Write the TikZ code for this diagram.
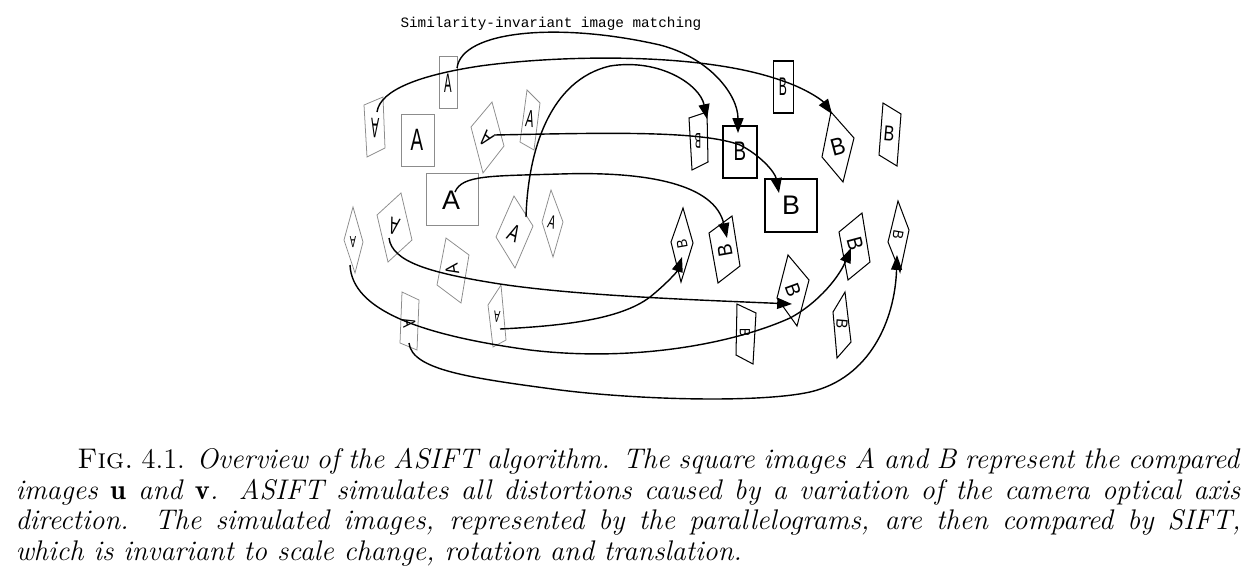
\documentclass[tikz,border=0pt]{standalone}
\usepackage{fontspec}
\newfontfamily\arialf{Liberation Sans}
\newfontfamily\monof{Liberation Mono}
\usetikzlibrary{arrows.meta}
\begin{document}
\begin{tikzpicture}[x=0.391pt,y=-0.391pt,
  ashape/.style={draw=black!45, line width=0.3pt},
  bshape/.style={draw=black, line width=0.4pt},
  bbox/.style={draw=black, line width=0.75pt},
  letter/.style={font=\arialf\fontsize{10.5}{12}\selectfont, inner sep=0pt},
  conn/.style={line width=0.55pt, -{Triangle[length=5.8pt,width=4.3pt]}},
  ]
\path[use as bounding box] (0,0) rectangle (1252,576);

% title
\node[font=\monof\fontsize{5.6}{7}\selectfont, anchor=base west, inner sep=0pt] (title) at (400,27) {Similarity-invariant image matching};

% A side shapes
\draw[ashape] (364,105) -- (383,97) -- (385,148) -- (367,157) -- cycle;
\draw[ashape] (439,56) rectangle (457,108);
\draw[ashape] (401,114) rectangle (434,166);
\draw[ashape] (426,173) rectangle (478,225);
\draw[ashape] (471,127) -- (492,102) -- (504,146) -- (483,173) -- cycle;
\draw[ashape] (527,90) -- (540,103) -- (534,150) -- (520,142) -- cycle;
\draw[ashape] (353,207) -- (363,242) -- (355,273) -- (344,240) -- cycle;
\draw[ashape] (377,215) -- (401,193) -- (412,240) -- (388,262) -- cycle;
\draw[ashape] (496,237) -- (514,196) -- (533,226) -- (515,268) -- cycle;
\draw[ashape] (551,190) -- (563,222) -- (553,257) -- (542,222) -- cycle;
\draw[ashape] (437,285) -- (446,238) -- (469,255) -- (461,303) -- cycle;
\draw[ashape] (402,292) -- (419,300) -- (417,350) -- (400,343) -- cycle;
\draw[ashape] (488,305) -- (501,285) -- (506,340) -- (493,347) -- cycle;

% A letters
\node[letter, rotate=178, xscale=0.45, yscale=1.05] (A1) at (375,128) {A};
\node[letter, xscale=0.42, yscale=1.0] (A2) at (448,83) {A};
\node[letter, xscale=0.7, yscale=1.15] (A3) at (417,140) {A};
\node[letter] (A4) at (451,200) {A};
\node[letter, rotate=140, xscale=0.6, yscale=0.8] (A5) at (486,139) {A};
\node[letter, rotate=-8, xscale=0.45, yscale=0.9] (A6) at (530,119) {A};
\node[letter, rotate=180, xscale=0.35, yscale=0.6] (A7) at (353,242) {A};
\node[letter, rotate=165, xscale=0.55, yscale=0.9] (A8) at (394,226) {A};
\node[letter, rotate=-25, xscale=0.6, yscale=0.9] (A9) at (514,233) {A};
\node[letter, rotate=-15, xscale=0.4, yscale=0.7] (A10) at (552,222) {A};
\node[letter, rotate=100, xscale=0.6, yscale=0.7] (A11) at (452,269) {A};
\node[letter, rotate=-80, xscale=0.5, yscale=0.7] (A12) at (409,323) {A};
\node[letter, rotate=175, xscale=0.35, yscale=0.6] (A13) at (497,317) {A};

% B side shapes
\draw[bshape] (773,61) rectangle (793,113);
\draw[bshape] (689,118) -- (707,112) -- (708,162) -- (692,170) -- cycle;
\draw[bbox] (723,126) rectangle (757,178);
\draw[bbox] (765,179) rectangle (817,232);
\draw[bshape] (831,112) -- (854,138) -- (843,182) -- (822,157) -- cycle;
\draw[bshape] (883,103) -- (901,114) -- (897,166) -- (879,155) -- cycle;
\draw[bshape] (683,208) -- (693,243) -- (681,282) -- (671,242) -- cycle;
\draw[bshape] (709,233) -- (732,216) -- (740,266) -- (718,283) -- cycle;
\draw[bshape] (839,232) -- (862,213) -- (870,262) -- (848,280) -- cycle;
\draw[bshape] (898,201) -- (909,230) -- (900,272) -- (888,242) -- cycle;
\draw[bshape] (777,298) -- (788,255) -- (809,280) -- (797,326) -- cycle;
\draw[bshape] (736,355) -- (737,304) -- (756,313) -- (753,364) -- cycle;
\draw[bshape] (833,312) -- (845,292) -- (851,342) -- (837,358) -- cycle;

% B letters
\node[letter, xscale=0.45, yscale=0.95] (B14) at (783,87) {B};
\node[letter, rotate=180, xscale=0.35, yscale=0.8] (B15) at (698,141) {B};
\node[letter, xscale=0.7, yscale=1.0] (B16) at (740,151) {B};
\node[letter] (B17) at (791,205) {B};
\node[letter, rotate=15, xscale=0.8, yscale=0.9] (B18) at (838,147) {B};
\node[letter, rotate=-5, xscale=0.6, yscale=0.8] (B19) at (889,134) {B};
\node[letter, rotate=100, xscale=0.5, yscale=0.55] (B20) at (682,244) {B};
\node[letter, rotate=100, xscale=0.7, yscale=0.75] (B21) at (725,251) {B};
\node[letter, rotate=-75, xscale=0.7, yscale=0.8] (B22) at (855,244) {B};
\node[letter, rotate=-100, xscale=0.5, yscale=0.55] (B23) at (898,235) {B};
\node[letter, rotate=-70, xscale=0.7, yscale=0.75] (B24) at (793,290) {B};
\node[letter, rotate=-90, xscale=0.45, yscale=0.55] (B25) at (745,333) {B};
\node[letter, rotate=-95, xscale=0.55, yscale=0.6] (B26) at (842,324) {B};

% connector end points
\coordinate (as) at (457,68);   \coordinate (ae) at (738,133);
\coordinate (bs) at (377,112);  \coordinate (be) at (832,114);
\coordinate (cs) at (526,217);  \coordinate (ce) at (707,119);
\coordinate (ds) at (494,135);  \coordinate (de) at (779,193);
\coordinate (es) at (455,192);  \coordinate (ee) at (727,238);
\coordinate (fs) at (389,238);  \coordinate (fe) at (792,304);
\coordinate (gs) at (350,265);  \coordinate (ge) at (851,248);
\coordinate (hs) at (500,329);  \coordinate (he) at (682,257);
\coordinate (is) at (409,343);  \coordinate (ie) at (897,255);

% connectors
\draw[conn] (as) .. controls (462,30) and (560,22) .. (660,45) .. controls (710,58) and (738,95) .. (ae);
\draw[conn] (bs) .. controls (380,90) and (420,75) .. (480,66) .. controls (560,55) and (700,52) .. (780,80) .. controls (805,88) and (822,100) .. (be);
\draw[conn] (cs) .. controls (528,150) and (550,80) .. (610,66) .. controls (660,58) and (700,85) .. (ce);
\draw[conn] (ds) .. controls (600,133) and (700,130) .. (740,145) .. controls (760,155) and (775,172) .. (de);
\draw[conn] (es) .. controls (462,175) and (490,176) .. (560,174) .. controls (650,171) and (715,185) .. (ee);
\draw[conn] (fs) .. controls (392,262) and (430,273) .. (500,284) .. controls (580,296) and (700,300) .. (fe);
\draw[conn] (gs) .. controls (352,310) and (420,335) .. (530,350) .. controls (630,362) and (730,345) .. (790,318) .. controls (820,302) and (840,275) .. (ge);
\draw[conn] (hs) .. controls (560,326) and (620,320) .. (650,297) .. controls (665,285) and (677,272) .. (he);
\draw[conn] (is) .. controls (412,370) and (470,378) .. (560,390) .. controls (640,400) and (760,403) .. (810,392) .. controls (870,378) and (895,320) .. (ie);

% caption
\node[anchor=north west, inner sep=0pt, text width=479pt, align=justify,
      font=\fontsize{11.1}{12}\selectfont] (cap) at (15,446.5)
{\strut\hspace*{24.2pt}\textsc{Fig.}~4.1. \textit{Overview of the ASIFT algorithm.  The square images A and B represent the compared}\linebreak
\textit{images $\mathbf{u}$ and $\mathbf{v}$.  ASIFT simulates all distortions caused by a variation of the camera optical axis}\linebreak
\textit{direction.  The simulated images, represented by the parallelograms, are then compared by SIFT,}\linebreak
\textit{which is invariant to scale change, rotation and translation.}};
\end{tikzpicture}
\end{document}
